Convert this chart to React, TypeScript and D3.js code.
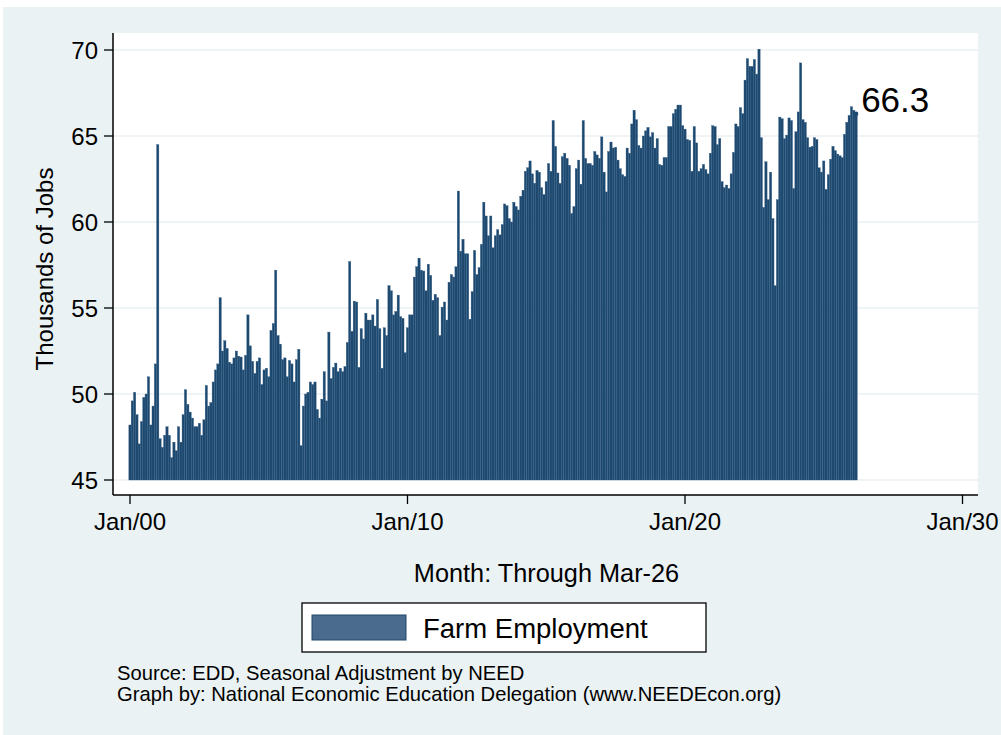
import React from "react";
import * as d3 from "d3";

// monthly series, first value is Jan 2000, last is Mar 2026 (thousands of jobs)
const FARM_JOBS = [
  48.2, 49.6, 50.1, 48.8, 47.1, 48.4, 49.8, 50.0, 51.0, 48.2, 49.3, 51.75,
  64.5, 47.4, 46.9, 47.6, 48.1, 47.6, 46.3, 47.2, 46.7, 48.1, 47.2, 48.8,
  50.25, 49.4, 48.95, 48.6, 48.1, 48.1, 48.3, 47.6, 48.5, 50.5, 49.3, 49.5,
  50.7, 51.4, 51.75, 55.6, 52.5, 53.1, 52.65, 51.85, 51.75, 52.1, 52.5, 52.2,
  52.15, 51.4, 52.25, 54.6, 52.8, 51.9, 51.2, 51.9, 52.1, 50.55, 51.4, 51.5,
  51.0, 53.7, 54.1, 57.2, 53.4, 52.9, 52.0, 52.1, 51.0, 51.95, 51.75, 50.7,
  52.0, 52.6, 47.0, 49.3, 50.0, 50.1, 50.7, 50.55, 50.7, 49.1, 48.6, 49.7,
  51.3, 49.6, 53.6, 50.9, 51.55, 51.8, 51.3, 51.5, 51.3, 51.6, 53.0, 57.7,
  53.65, 55.4, 55.35, 51.55, 53.8, 53.2, 54.7, 54.3, 54.3, 54.6, 53.95, 55.5,
  53.8, 51.5, 53.85, 53.4, 56.3, 56.0, 54.6, 54.8, 55.75, 54.5, 54.4, 52.4,
  53.85, 54.6, 54.6, 56.8, 57.4, 57.9, 57.2, 57.15, 56.0, 57.55, 56.9, 55.45,
  55.8, 55.6, 53.4, 55.05, 55.35, 54.3, 56.5, 56.95, 56.8, 57.4, 61.8, 58.3,
  59.0, 58.15, 58.15, 54.35, 55.95, 58.35, 56.95, 57.35, 58.7, 61.15, 60.35, 59.2,
  60.35, 58.5, 59.2, 59.55, 59.25, 59.85, 61.05, 60.95, 60.2, 60.0, 61.15, 60.9,
  60.7, 61.5, 61.85, 62.95, 63.15, 63.55, 62.8, 62.25, 63.0, 62.9, 62.0, 61.6,
  62.35, 63.4, 62.95, 65.9, 64.4, 62.85, 62.25, 63.8, 64.0, 63.7, 63.3, 60.5,
  60.9, 63.1, 63.6, 62.2, 65.9, 63.7, 63.4, 63.4, 63.3, 64.1, 63.9, 63.7,
  64.95, 62.9, 61.75, 64.1, 64.65, 64.3, 64.35, 63.6, 63.1, 62.75, 62.65, 64.3,
  64.0, 65.7, 66.5, 65.95, 64.45, 64.3, 65.0, 65.3, 65.5, 64.95, 65.2, 64.3,
  64.85, 63.35, 63.3, 63.75, 63.75, 65.55, 65.55, 66.3, 66.55, 66.8, 66.8, 65.6,
  65.4, 64.8, 64.75, 62.95, 65.55, 64.6, 62.95, 63.1, 63.35, 63.05, 62.8, 64.0,
  65.6, 65.55, 64.5, 64.85, 62.35, 62.0, 62.15, 61.95, 62.8, 64.05, 65.7, 65.55,
  66.65, 66.3, 68.25, 69.5, 69.05, 69.05, 69.45, 68.6, 70.05, 64.9, 60.85, 63.5,
  61.3, 62.9, 60.2, 56.3, 61.3, 66.1, 66.0, 64.85, 65.05, 66.05, 65.9, 61.95,
  65.25, 66.4, 69.25, 65.95, 65.8, 64.9, 64.35, 64.4, 64.9, 64.8, 63.15, 62.9,
  63.55, 61.9, 62.75, 63.65, 64.4, 64.15, 63.95, 63.85, 63.75, 65.1, 65.8, 66.2,
  66.7, 66.5, 66.3,
];

const X_TICK_MONTHS = [0, 120, 240, 360];
const X_TICK_LABELS = ["Jan/00", "Jan/10", "Jan/20", "Jan/30"];
const Y_TICKS = [45, 50, 55, 60, 65, 70];
const LAST_LABEL = "66.3";

const LEGEND_LABEL = "Farm Employment";
const X_TITLE = "Month: Through Mar-26";
const Y_TITLE = "Thousands of Jobs";
const NOTES = [
  "Source: EDD, Seasonal Adjustment by NEED",
  "Graph by: National Economic Education Delegation (www.NEEDEcon.org)",
];

const FONT = "'Liberation Sans', Arial, Helvetica, sans-serif";
const BG = "#eaf2f3";
const BAR = "#1e496e";

const PLOT = { left: 113, right: 978, top: 33, bottom: 495 };

const App = () => {
  const ref = React.useRef<SVGSVGElement>(null);

  React.useEffect(() => {
    const svg = d3.select(ref.current!);
    svg.selectAll("*").remove();

    svg.append("rect").attr("width", 1001).attr("height", 735).attr("fill", "#fff");
    svg
      .append("rect")
      .attr("x", 3)
      .attr("y", 7)
      .attr("width", 998)
      .attr("height", 728)
      .attr("fill", BG);

    svg
      .append("rect")
      .attr("x", PLOT.left)
      .attr("y", PLOT.top)
      .attr("width", PLOT.right - PLOT.left)
      .attr("height", PLOT.bottom - PLOT.top)
      .attr("fill", "#fff");

    const x = d3.scaleLinear().domain([0, 360]).range([130, 962.5]);
    const y = d3.scaleLinear().domain([45, 70]).range([480, 50]);
    const bw = x(1) - x(0);

    // gridlines
    svg
      .append("g")
      .selectAll("line")
      .data(Y_TICKS)
      .enter()
      .append("line")
      .attr("x1", PLOT.left)
      .attr("x2", PLOT.right)
      .attr("y1", (d) => y(d))
      .attr("y2", (d) => y(d))
      .attr("stroke", BG)
      .attr("stroke-width", 1.6);

    // bars
    svg
      .append("g")
      .selectAll("rect")
      .data(FARM_JOBS)
      .enter()
      .append("rect")
      .attr("x", (_, i) => x(i) - bw / 2)
      .attr("y", (d) => y(d))
      .attr("width", bw)
      .attr("height", (d) => y(45) - y(d))
      .attr("fill", BAR)
      .attr("stroke", "#36608a")
      .attr("stroke-width", 0.35);

    // last value marker + label
    const last = FARM_JOBS.length - 1;
    svg
      .append("circle")
      .attr("cx", x(last))
      .attr("cy", y(FARM_JOBS[last]))
      .attr("r", 2.2)
      .attr("fill", BAR);
    svg
      .append("text")
      .attr("x", x(last) + 5)
      .attr("y", y(FARM_JOBS[last]) - 2)
      .attr("font-family", FONT)
      .attr("font-size", 35)
      .attr("fill", "#000")
      .text(LAST_LABEL);

    // y axis
    const yAxis = svg.append("g");
    yAxis
      .append("line")
      .attr("x1", PLOT.left)
      .attr("x2", PLOT.left)
      .attr("y1", PLOT.top)
      .attr("y2", PLOT.bottom)
      .attr("stroke", "#000")
      .attr("stroke-width", 1.5);
    const yt = yAxis.selectAll("g.tick").data(Y_TICKS).enter().append("g");
    yt.append("line")
      .attr("x1", PLOT.left - 9)
      .attr("x2", PLOT.left)
      .attr("y1", (d) => y(d))
      .attr("y2", (d) => y(d))
      .attr("stroke", "#000")
      .attr("stroke-width", 1.3);
    yt.append("text")
      .attr("x", PLOT.left - 15)
      .attr("y", (d) => y(d))
      .attr("dy", "0.36em")
      .attr("text-anchor", "end")
      .attr("font-family", FONT)
      .attr("font-size", 24)
      .text((d) => d);

    // x axis
    const xAxis = svg.append("g");
    xAxis
      .append("line")
      .attr("x1", PLOT.left)
      .attr("x2", PLOT.right)
      .attr("y1", PLOT.bottom)
      .attr("y2", PLOT.bottom)
      .attr("stroke", "#000")
      .attr("stroke-width", 1.5);
    const xt = xAxis.selectAll("g.tick").data(X_TICK_MONTHS).enter().append("g");
    xt.append("line")
      .attr("x1", (d) => x(d))
      .attr("x2", (d) => x(d))
      .attr("y1", PLOT.bottom)
      .attr("y2", PLOT.bottom + 9)
      .attr("stroke", "#000")
      .attr("stroke-width", 1.3);
    xt.append("text")
      .attr("x", (d) => x(d))
      .attr("y", 530)
      .attr("text-anchor", "middle")
      .attr("font-family", FONT)
      .attr("font-size", 24)
      .text((_, i) => X_TICK_LABELS[i]);

    // titles
    svg
      .append("text")
      .attr("x", 546.5)
      .attr("y", 582)
      .attr("text-anchor", "middle")
      .attr("font-family", FONT)
      .attr("font-size", 25.3)
      .text(X_TITLE);
    svg
      .append("text")
      .attr("transform", "translate(53, 269) rotate(-90)")
      .attr("text-anchor", "middle")
      .attr("font-family", FONT)
      .attr("font-size", 24)
      .text(Y_TITLE);

    // legend
    const lg = svg.append("g");
    lg.append("rect")
      .attr("x", 302)
      .attr("y", 603)
      .attr("width", 404)
      .attr("height", 49)
      .attr("fill", "#fff")
      .attr("stroke", "#000")
      .attr("stroke-width", 1.3);
    lg.append("rect")
      .attr("x", 312)
      .attr("y", 615)
      .attr("width", 94)
      .attr("height", 25)
      .attr("fill", "#4a6b8d")
      .attr("stroke", BAR)
      .attr("stroke-width", 1);
    lg.append("text")
      .attr("x", 423)
      .attr("y", 638)
      .attr("font-family", FONT)
      .attr("font-size", 27.5)
      .text(LEGEND_LABEL);

    // notes
    svg
      .append("g")
      .selectAll("text")
      .data(NOTES)
      .enter()
      .append("text")
      .attr("x", 117)
      .attr("y", (_, i) => 680 + i * 20.5)
      .attr("font-family", FONT)
      .attr("font-size", 20.2)
      .text((d) => d);
  }, []);

  return (
    <svg
      ref={ref}
      width={1001}
      height={735}
      style={{ position: "absolute", left: 0, top: 0 }}
    />
  );
};

export default App;
